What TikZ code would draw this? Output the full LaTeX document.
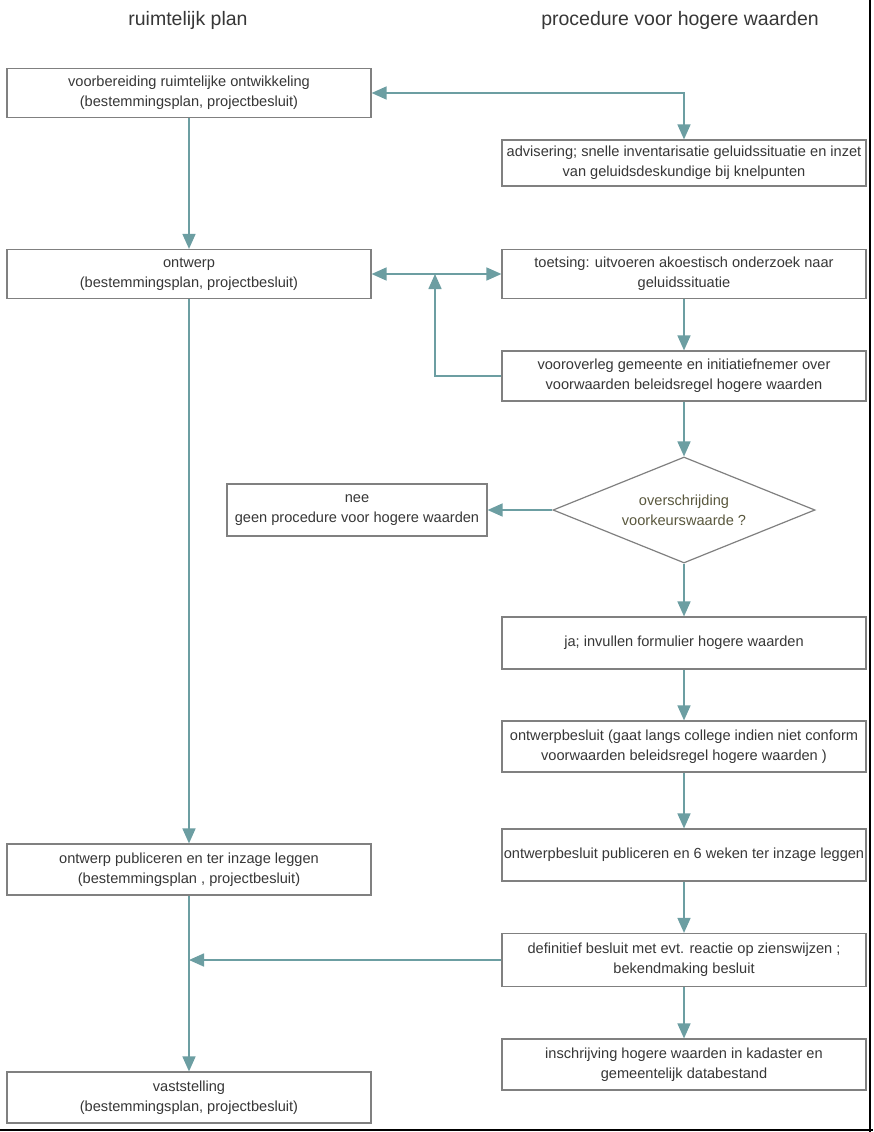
\documentclass[tikz,border=0pt]{standalone}
\usepackage{fontspec}
\setmainfont{Liberation Sans}
\usetikzlibrary{arrows.meta,shapes.geometric}
\definecolor{arrowc}{RGB}{108,158,162}
\definecolor{boxc}{RGB}{128,128,128}
\definecolor{txtc}{RGB}{55,55,55}
\definecolor{diatxt}{RGB}{90,88,62}
\begin{document}
\begin{tikzpicture}[x=1pt,y=-1pt,
  boxl/.style={draw=boxc,line width=1.2pt,rectangle,minimum width=364pt,minimum height=49pt,
     inner sep=0pt,align=center,text=txtc,font=\fontsize{14.6}{20}\selectfont},
  boxr/.style={boxl,minimum width=364pt},
  dia/.style={draw=boxc,line width=1.2pt,diamond,aspect=2.47,minimum width=262pt,minimum height=106pt,
     inner sep=0pt,align=center,text=diatxt,font=\fontsize{14.6}{20}\selectfont},
  head/.style={text=txtc,font=\fontsize{19.5}{22}\selectfont,inner sep=0pt},
  arr/.style={draw=arrowc,line width=1.6pt,-{Triangle[length=15pt,width=13pt]}},
  darr/.style={draw=arrowc,line width=1.6pt,{Triangle[length=15pt,width=13pt]}-{Triangle[length=15pt,width=13pt]}}
]
\useasboundingbox (0,0) rectangle (873,1132);
\fill[white] (0,0) rectangle (873,1132);
% border lines
\draw[black,line width=1.5pt] (870,0) -- (870,1132);
\draw[black,line width=1.5pt] (0,1130) -- (873,1130);

% headers
\node[head] (h1) at (188,20) {ruimtelijk plan};
\node[head] (h2) at (680,20) {procedure voor hogere waarden};

% left column
\node[boxl] (B1) at (189,93) {voorbereiding ruimtelijke ontwikkeling\\(bestemmingsplan, projectbesluit)};
\node[boxl] (B2) at (189,274) {ontwerp\\(bestemmingsplan, projectbesluit)};
\node[boxl,minimum height=51pt] (B3) at (189,869.5) {ontwerp publiceren en ter inzage leggen\\(bestemmingsplan , projectbesluit)};
\node[boxl,minimum height=51pt] (B4) at (189,1097.5) {vaststelling\\(bestemmingsplan, projectbesluit)};

% right column
\node[boxr,minimum height=46pt] (A1) at (684,163) {advisering; snelle inventarisatie geluidssituatie en inzet\\van geluidsdeskundige bij knelpunten};
\node[boxr] (A2) at (684,274) {toetsing: uitvoeren akoestisch onderzoek naar\\geluidssituatie};
\node[boxr,minimum height=50pt] (A3) at (684,376) {vooroverleg gemeente en initiatiefnemer over\\voorwaarden beleidsregel hogere waarden};
\node[dia] (D) at (684,510) {overschrijding\\voorkeurswaarde ?};
\node[boxl,minimum width=260pt,minimum height=52pt] (N) at (357,510) {nee\\geen procedure voor hogere waarden};
\node[boxr,minimum height=52pt] (J) at (684,643) {ja; invullen formulier hogere waarden};
\node[boxr,minimum height=51pt] (OB) at (684,746.5) {ontwerpbesluit (gaat langs college indien niet conform\\voorwaarden beleidsregel hogere waarden )};
\node[boxr,minimum height=52pt] (PUB) at (684,855) {ontwerpbesluit publiceren en 6 weken ter inzage leggen};
\node[boxr,minimum height=53pt] (DEF) at (684,960) {definitief besluit met evt. reactie op zienswijzen ;\\bekendmaking besluit};
\node[boxr,minimum height=51pt] (INS) at (684,1064.5) {inschrijving hogere waarden in kadaster en\\gemeentelijk databestand};

% connectors left
\draw[arr] (B1.south) -- (B2.north);
\draw[arr] (B2.south) -- (B3.north);
\draw[arr] (B3.south) -- (B4.north);

% connectors right
\draw[darr] (B1.east) -| (A1.north);
\draw[darr] (B2.east) -- (A2.west);
\coordinate (J1) at (435,274);
\draw[arr] (A3.west) -| (J1);
\draw[arr] (A2.south) -- (A3.north);
\draw[arr] (A3.south) -- (D.north);
\draw[arr] (D.west) -- (N.east);
\draw[arr] (D.south) -- (J.north);
\draw[arr] (J.south) -- (OB.north);
\draw[arr] (OB.south) -- (PUB.north);
\draw[arr] (PUB.south) -- (DEF.north);
\draw[arr] (DEF.south) -- (INS.north);
\coordinate (M) at (B3.south |- DEF.west);
\draw[arr] (DEF.west) -- (M);
\end{tikzpicture}
\end{document}
